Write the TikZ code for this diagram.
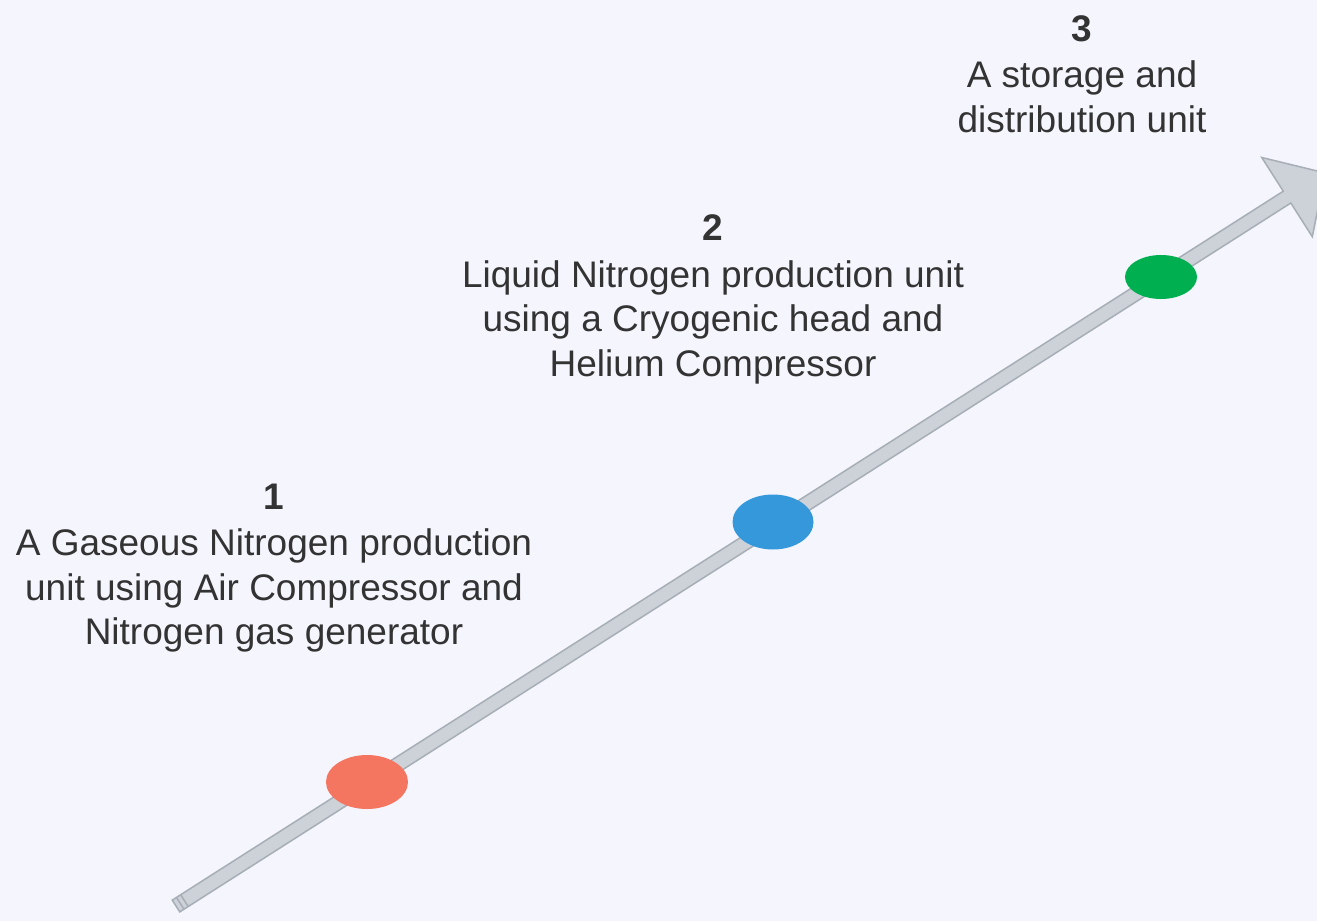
\documentclass[tikz,border=0pt]{standalone}
\usepackage{fontspec}
\setmainfont{Liberation Sans}
\usetikzlibrary{positioning,shapes.geometric}
\definecolor{bgcol}{HTML}{F4F5FD}
\definecolor{shaftfill}{HTML}{CDD1D8}
\definecolor{shaftline}{HTML}{A7AEB6}
\definecolor{dotred}{HTML}{F47560}
\definecolor{dotblue}{HTML}{3498DB}
\definecolor{dotgreen}{HTML}{00B050}
\definecolor{txtcol}{HTML}{333333}
\tikzset{
     dot/.style={ellipse, draw=none, inner sep=0pt},
     stagetext/.style={align=center, text=txtcol, font=\fontsize{37}{44.5}\selectfont, inner sep=0pt},
     arrowbody/.style={fill=shaftfill, draw=shaftline, line width=1.5pt, line join=miter}
     }

\begin{document}
\begin{tikzpicture}[x=1pt,y=1pt]
                    % Background
                    \fill[bgcol] (0,0) rectangle (1317,-921);
                    \useasboundingbox (0,0) rectangle (1317,-921);
                    % Arrow
                    \coordinate (tail) at (176,-906);
                    \begin{scope}[shift={(tail)}, rotate=32.54]
                        \draw[arrowbody] (0,-7) -- (1318,-7) -- (1318,-47) -- (1363,0) -- (1318,47) -- (1318,7) -- (0,7) -- cycle;
                        \draw[shaftline, line width=1.5pt] (5,-7) -- (5,7) (10,-7) -- (10,7);
                    \end{scope}
                    % Place dots
                    \node [dot, fill=dotred, minimum width=82pt, minimum height=54pt] (dot1) at (367,-782) {};
                    \node [dot, fill=dotblue, minimum width=81pt, minimum height=55pt] (dot2) at (773,-522) {};
                    \node [dot, fill=dotgreen, minimum width=72pt, minimum height=44pt] (dot3) at (1161,-277) {};
                    % Place labels
                    \node [stagetext] (stage1) at (274,-568) {\textbf{1}\\[2pt]A Gaseous Nitrogen production\\unit using Air Compressor and\\Nitrogen gas generator};
                    \node [stagetext] (stage2) at (713,-299.5) {\textbf{2}\\[2pt]Liquid Nitrogen production unit\\using a Cryogenic head and\\Helium Compressor};
                    \node [stagetext] (stage3) at (1082,-74) {\textbf{3}\\[2pt]A storage and\\distribution unit};
                \end{tikzpicture}
\end{document}
